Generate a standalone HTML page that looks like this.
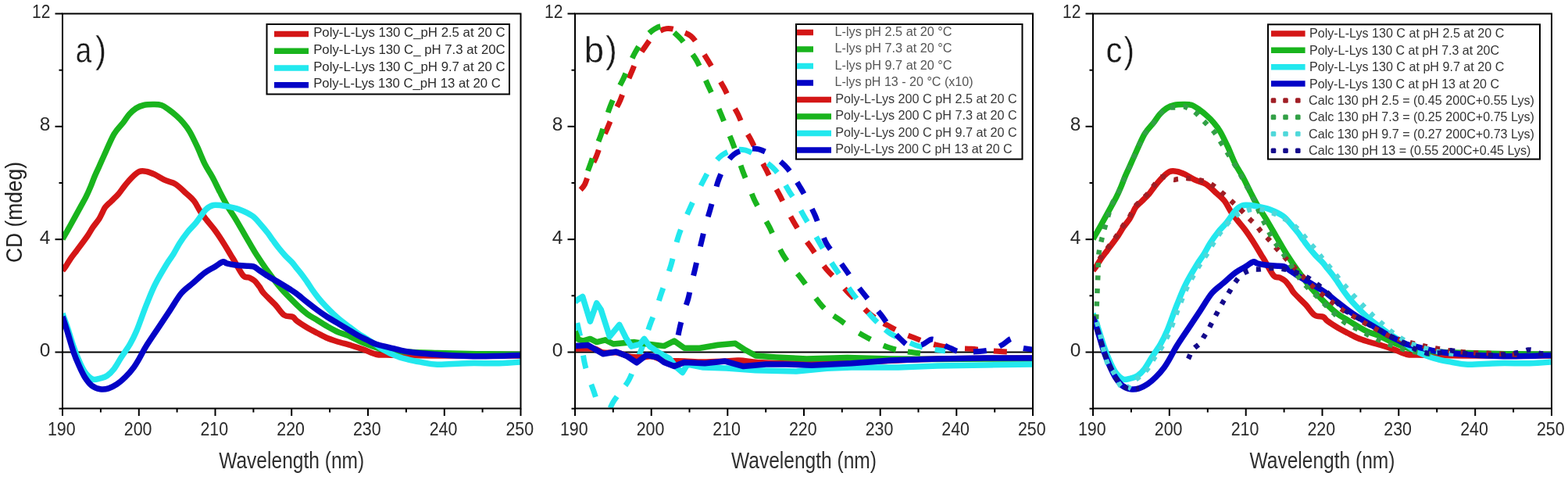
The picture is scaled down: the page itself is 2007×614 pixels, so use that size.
<!DOCTYPE html>
<html><head><meta charset="utf-8"><title>CD spectra</title>
<style>html,body{margin:0;padding:0;background:#fff;}svg{display:block;filter:blur(0.45px);}</style>
</head><body>
<svg width="2007" height="614" viewBox="0 0 2007 614" font-family="'Liberation Sans', Arial, sans-serif"><defs>
<clipPath id="c0"><rect x="80.0" y="17.5" width="586.5" height="505.0"/></clipPath>
<clipPath id="c1"><rect x="736.0" y="17.5" width="586.0" height="505.0"/></clipPath>
<clipPath id="c2"><rect x="1399.0" y="17.5" width="587.0" height="505.0"/></clipPath>
</defs>
<rect width="2007" height="614" fill="#fff"/>
<line x1="80.0" y1="450.5" x2="666.5" y2="450.5" stroke="#000" stroke-width="1.8"/>
<line x1="736.0" y1="450.5" x2="1322.0" y2="450.5" stroke="#000" stroke-width="1.8"/>
<line x1="1399.0" y1="450.5" x2="1986.0" y2="450.5" stroke="#000" stroke-width="1.8"/>
<path d="M80.0,346.0 C80.7,345.2 82.2,343.7 83.9,341.2 C85.6,338.7 88.0,334.3 90.4,330.8 C92.8,327.3 95.6,323.9 98.2,320.4 C100.8,316.9 103.6,313.3 106.0,310.0 C108.4,306.7 110.4,304.1 112.6,300.8 C114.8,297.5 116.7,293.9 119.1,290.4 C121.5,286.9 124.9,283.1 126.9,280.0 C128.9,276.9 129.7,274.5 131.0,272.0 C132.3,269.5 132.8,267.6 134.7,265.1 C136.6,262.7 139.7,260.1 142.5,257.3 C145.3,254.5 148.8,251.4 151.6,248.2 C154.4,244.9 156.6,241.3 159.4,237.8 C162.2,234.3 165.4,230.4 168.5,227.3 C171.6,224.2 175.0,220.8 178.2,219.5 C181.4,218.2 184.6,218.9 187.9,219.5 C191.2,220.1 194.0,221.3 198.0,223.2 C202.0,225.1 207.3,228.6 211.8,230.7 C216.3,232.8 220.5,232.9 224.8,235.6 C229.2,238.3 234.0,243.4 237.9,247.0 C241.8,250.6 245.2,253.0 248.3,257.0 C251.4,261.0 253.8,266.7 256.6,270.8 C259.4,274.9 261.7,277.8 264.9,281.9 C268.1,286.0 272.3,290.6 276.0,295.7 C279.7,300.8 283.9,307.3 287.1,312.4 C290.3,317.5 293.2,322.6 295.4,326.2 C297.5,329.8 297.4,329.3 300.0,333.7 C302.6,338.1 308.0,348.8 311.2,352.4 C314.4,356.0 316.7,354.0 319.1,355.1 C321.5,356.2 323.4,357.1 325.6,359.0 C327.8,360.9 330.1,364.2 332.1,366.8 C334.1,369.4 334.0,371.0 337.4,374.9 C340.8,378.8 348.0,385.2 352.4,389.9 C356.8,394.6 359.9,400.4 363.6,403.0 C367.4,405.6 372.2,404.2 374.9,405.5 C377.6,406.8 377.0,408.2 380.0,410.5 C383.0,412.8 388.7,416.4 393.0,419.0 C397.3,421.6 401.7,423.8 406.0,426.0 C410.3,428.2 414.6,430.7 419.0,432.5 C423.4,434.3 427.0,435.4 432.1,437.0 C437.2,438.6 444.3,440.3 449.8,442.0 C455.3,443.7 459.8,445.1 465.1,447.0 C470.4,448.9 476.5,452.1 481.4,453.3 C486.3,454.5 488.1,453.9 494.5,454.1 C500.9,454.3 510.3,454.4 520.0,454.5 C529.7,454.6 539.4,454.9 552.7,455.0 C566.0,455.1 581.1,455.0 600.0,455.0 C618.9,455.0 655.0,455.0 666.0,455.0" fill="none" stroke="#d41616" stroke-width="7.5" stroke-linejoin="round" stroke-linecap="butt" clip-path="url(#c0)"/>
<path d="M80.0,306.0 C81.7,303.0 86.4,294.8 90.2,288.0 C94.0,281.2 99.5,271.1 102.8,265.1 C106.1,259.1 107.7,256.4 109.9,252.1 C112.1,247.8 114.0,243.4 115.8,239.1 C117.6,234.8 119.2,230.3 121.0,226.0 C122.8,221.7 125.0,217.3 126.9,213.0 C128.8,208.7 129.5,206.9 132.7,200.0 C135.9,193.1 141.8,178.9 145.9,171.7 C150.1,164.5 154.3,161.2 157.6,157.0 C160.8,152.8 162.6,149.4 165.4,146.3 C168.2,143.2 171.1,140.5 174.2,138.5 C177.3,136.5 180.4,135.3 184.0,134.5 C187.6,133.7 191.9,133.6 195.7,133.6 C199.4,133.6 203.1,133.4 206.5,134.5 C209.9,135.6 212.9,138.1 216.2,140.4 C219.4,142.7 223.1,145.6 226.0,148.2 C228.9,150.8 231.0,152.8 233.8,156.1 C236.6,159.4 239.7,163.0 242.8,168.3 C245.9,173.6 249.3,180.8 252.5,187.7 C255.7,194.6 259.0,203.4 262.2,209.9 C265.4,216.4 268.7,220.5 271.9,226.5 C275.1,232.5 278.4,239.7 281.6,245.9 C284.8,252.1 288.0,258.4 291.2,263.9 C294.4,269.4 297.7,273.8 300.9,279.1 C304.1,284.4 307.4,290.1 310.6,295.7 C313.8,301.2 317.3,307.3 320.3,312.4 C323.3,317.5 325.1,320.8 328.6,326.2 C332.1,331.6 336.0,337.7 341.2,344.9 C346.4,352.1 353.4,361.8 359.9,369.3 C366.4,376.8 374.5,384.6 380.0,390.0 C385.5,395.4 388.7,398.2 393.0,401.5 C397.3,404.8 401.7,406.8 406.0,409.5 C410.3,412.2 414.6,415.0 419.0,417.5 C423.4,420.0 427.8,422.6 432.1,424.5 C436.5,426.4 439.6,426.7 445.1,429.0 C450.6,431.3 457.6,435.5 465.1,438.5 C472.6,441.5 480.9,445.1 490.0,447.0 C499.1,448.9 508.3,449.2 520.0,450.0 C531.7,450.8 546.7,451.1 560.0,451.5 C573.3,451.9 586.7,452.2 600.0,452.5 C613.3,452.8 629.0,452.8 640.0,453.0 C651.0,453.2 661.7,453.4 666.0,453.5" fill="none" stroke="#19b41d" stroke-width="7.5" stroke-linejoin="round" stroke-linecap="butt" clip-path="url(#c0)"/>
<path d="M80.0,401.0 C81.2,404.3 84.7,414.0 87.0,421.0 C89.3,428.0 91.7,436.3 94.0,443.0 C96.3,449.7 98.7,455.7 101.0,461.0 C103.3,466.3 105.8,471.5 108.0,475.0 C110.2,478.5 112.0,480.2 114.0,482.0 C116.0,483.8 117.7,485.2 120.0,485.5 C122.3,485.8 125.2,484.8 128.0,484.0 C130.8,483.2 134.1,482.7 137.1,480.6 C140.1,478.6 143.1,475.6 146.1,471.7 C149.1,467.8 151.8,462.4 155.1,457.3 C158.4,452.2 162.5,446.9 165.8,441.2 C169.1,435.5 171.2,431.9 174.8,423.3 C178.4,414.8 183.4,399.8 187.4,389.9 C191.4,380.0 194.2,372.4 198.6,363.7 C203.0,355.0 209.7,343.9 213.6,337.5 C217.5,331.1 219.3,329.4 222.0,325.0 C224.7,320.6 227.0,315.7 230.0,311.0 C233.0,306.3 236.5,301.4 240.0,297.0 C243.5,292.6 247.2,289.5 251.1,284.7 C255.0,279.9 259.8,271.7 263.5,268.0 C267.2,264.3 268.8,263.2 273.2,262.5 C277.6,261.8 284.3,263.0 289.9,263.9 C295.4,264.8 301.0,265.9 306.5,268.0 C312.0,270.1 318.6,273.1 323.1,276.3 C327.6,279.5 330.3,283.4 333.5,287.0 C336.7,290.6 339.9,294.5 342.5,297.8 C345.1,301.1 346.6,303.6 349.0,306.9 C351.4,310.1 354.2,314.0 356.8,317.3 C359.4,320.6 361.8,323.4 364.6,326.5 C367.4,329.6 371.2,332.8 373.8,335.6 C376.4,338.4 377.9,340.8 380.0,343.4 C382.1,346.0 384.3,348.6 386.5,351.5 C388.7,354.4 390.8,357.4 393.0,360.5 C395.2,363.6 397.1,367.0 399.5,370.4 C401.9,373.8 404.5,377.3 407.3,380.8 C410.1,384.3 413.2,387.8 416.5,391.3 C419.8,394.8 423.4,398.4 426.9,401.7 C430.4,404.9 433.8,408.0 437.3,410.8 C440.8,413.6 444.2,416.0 447.7,418.6 C451.2,421.2 454.6,424.0 458.1,426.4 C461.6,428.8 464.9,430.6 468.5,432.9 C472.1,435.2 476.5,437.7 480.0,440.0 C483.5,442.3 485.3,444.3 489.6,446.8 C493.9,449.3 500.5,452.7 505.9,454.9 C511.3,457.1 516.7,458.4 522.1,459.8 C527.5,461.2 532.1,462.0 538.4,463.1 C544.6,464.2 549.6,466.0 559.6,466.3 C569.6,466.6 585.1,465.0 598.3,464.7 C611.5,464.4 627.7,465.0 639.0,464.7 C650.3,464.4 661.5,463.4 666.0,463.1" fill="none" stroke="#22e8ee" stroke-width="7.5" stroke-linejoin="round" stroke-linecap="butt" clip-path="url(#c0)"/>
<path d="M80.0,405.0 C81.2,408.6 84.7,419.4 87.0,426.9 C89.3,434.4 91.7,443.3 94.1,450.2 C96.5,457.1 98.9,462.7 101.3,468.1 C103.7,473.5 105.8,478.2 108.5,482.4 C111.2,486.6 114.1,490.6 117.4,493.2 C120.7,495.8 124.6,497.1 128.2,497.7 C131.8,498.3 135.3,497.9 138.9,496.8 C142.5,495.8 146.1,493.8 149.7,491.4 C153.3,489.0 156.8,486.0 160.4,482.4 C164.0,478.8 168.3,473.8 171.2,469.9 C174.1,466.0 175.3,463.7 178.0,459.1 C180.7,454.5 183.3,448.8 187.4,442.3 C191.5,435.8 197.3,427.4 202.3,419.9 C207.3,412.4 212.3,404.9 217.3,397.4 C222.3,389.9 227.3,380.8 232.3,374.9 C237.3,369.0 242.3,366.2 247.3,361.8 C252.3,357.4 257.7,352.1 262.3,348.7 C266.9,345.3 271.2,343.5 275.0,341.2 C278.8,338.9 282.6,335.6 285.2,334.9 C287.8,334.2 288.0,336.2 290.4,336.9 C292.8,337.5 295.8,338.3 299.5,338.8 C303.2,339.3 308.5,339.8 312.6,340.1 C316.7,340.4 321.1,339.8 324.3,340.8 C327.6,341.8 328.6,343.7 332.1,346.0 C335.6,348.3 340.8,351.8 345.1,354.5 C349.4,357.2 353.8,359.4 358.1,362.0 C362.4,364.6 367.5,367.7 371.1,370.0 C374.8,372.3 376.4,373.2 380.0,376.0 C383.6,378.8 388.7,383.1 393.0,386.5 C397.3,389.9 401.7,393.3 406.0,396.5 C410.3,399.7 414.6,402.7 419.0,405.5 C423.4,408.3 427.8,410.8 432.1,413.4 C436.5,416.0 440.8,418.6 445.1,421.2 C449.4,423.8 453.8,426.6 458.1,429.0 C462.4,431.4 467.2,433.6 471.1,435.5 C475.0,437.4 477.0,438.8 481.4,440.3 C485.8,441.8 492.3,443.0 497.7,444.3 C503.1,445.6 508.6,447.3 514.0,448.4 C519.4,449.5 522.7,450.1 530.3,451.0 C537.9,451.9 548.3,452.8 559.6,453.5 C570.9,454.2 586.4,455.2 598.3,455.5 C610.2,455.8 619.6,455.7 630.9,455.5 C642.2,455.3 660.1,454.7 666.0,454.5" fill="none" stroke="#0303c6" stroke-width="7.5" stroke-linejoin="round" stroke-linecap="butt" clip-path="url(#c0)"/>
<rect x="80.0" y="17.5" width="586.5" height="505.0" fill="none" stroke="#000" stroke-width="2"/>
<line x1="75.5" y1="522.7" x2="80.0" y2="522.7" stroke="#000" stroke-width="2"/>
<line x1="70.5" y1="450.5" x2="80.0" y2="450.5" stroke="#000" stroke-width="2"/>
<text x="64.5" y="455.9" font-size="24.5" text-anchor="end" fill="#2a2a2a">0</text>
<line x1="75.5" y1="378.3" x2="80.0" y2="378.3" stroke="#000" stroke-width="2"/>
<line x1="70.5" y1="306.2" x2="80.0" y2="306.2" stroke="#000" stroke-width="2"/>
<text x="64.5" y="311.6" font-size="24.5" text-anchor="end" fill="#2a2a2a">4</text>
<line x1="75.5" y1="234.0" x2="80.0" y2="234.0" stroke="#000" stroke-width="2"/>
<line x1="70.5" y1="161.8" x2="80.0" y2="161.8" stroke="#000" stroke-width="2"/>
<text x="64.5" y="167.2" font-size="24.5" text-anchor="end" fill="#2a2a2a">8</text>
<line x1="75.5" y1="89.7" x2="80.0" y2="89.7" stroke="#000" stroke-width="2"/>
<line x1="70.5" y1="17.5" x2="80.0" y2="17.5" stroke="#000" stroke-width="2"/>
<text x="64.5" y="22.9" font-size="24.5" text-anchor="end" fill="#2a2a2a" textLength="23.4" lengthAdjust="spacingAndGlyphs">12</text>
<line x1="80.0" y1="522.5" x2="80.0" y2="532.0" stroke="#000" stroke-width="2"/>
<text x="78.8" y="557.0" font-size="24.5" text-anchor="middle" fill="#2a2a2a" textLength="35.7" lengthAdjust="spacingAndGlyphs">190</text>
<line x1="128.9" y1="522.5" x2="128.9" y2="527.5" stroke="#000" stroke-width="2"/>
<line x1="177.8" y1="522.5" x2="177.8" y2="532.0" stroke="#000" stroke-width="2"/>
<text x="176.6" y="557.0" font-size="24.5" text-anchor="middle" fill="#2a2a2a" textLength="35.7" lengthAdjust="spacingAndGlyphs">200</text>
<line x1="226.6" y1="522.5" x2="226.6" y2="527.5" stroke="#000" stroke-width="2"/>
<line x1="275.5" y1="522.5" x2="275.5" y2="532.0" stroke="#000" stroke-width="2"/>
<text x="274.3" y="557.0" font-size="24.5" text-anchor="middle" fill="#2a2a2a" textLength="35.7" lengthAdjust="spacingAndGlyphs">210</text>
<line x1="324.4" y1="522.5" x2="324.4" y2="527.5" stroke="#000" stroke-width="2"/>
<line x1="373.2" y1="522.5" x2="373.2" y2="532.0" stroke="#000" stroke-width="2"/>
<text x="372.1" y="557.0" font-size="24.5" text-anchor="middle" fill="#2a2a2a" textLength="35.7" lengthAdjust="spacingAndGlyphs">220</text>
<line x1="422.1" y1="522.5" x2="422.1" y2="527.5" stroke="#000" stroke-width="2"/>
<line x1="471.0" y1="522.5" x2="471.0" y2="532.0" stroke="#000" stroke-width="2"/>
<text x="469.8" y="557.0" font-size="24.5" text-anchor="middle" fill="#2a2a2a" textLength="35.7" lengthAdjust="spacingAndGlyphs">230</text>
<line x1="519.9" y1="522.5" x2="519.9" y2="527.5" stroke="#000" stroke-width="2"/>
<line x1="568.8" y1="522.5" x2="568.8" y2="532.0" stroke="#000" stroke-width="2"/>
<text x="567.5" y="557.0" font-size="24.5" text-anchor="middle" fill="#2a2a2a" textLength="35.7" lengthAdjust="spacingAndGlyphs">240</text>
<line x1="617.6" y1="522.5" x2="617.6" y2="527.5" stroke="#000" stroke-width="2"/>
<line x1="666.5" y1="522.5" x2="666.5" y2="532.0" stroke="#000" stroke-width="2"/>
<text x="665.3" y="557.0" font-size="24.5" text-anchor="middle" fill="#2a2a2a" textLength="35.7" lengthAdjust="spacingAndGlyphs">250</text>
<text x="373.2" y="599.0" font-size="29.0" text-anchor="middle" fill="#2e2e2e" textLength="186.0" lengthAdjust="spacingAndGlyphs">Wavelength (nm)</text>
<text transform="translate(96.67,80.20) scale(0.800,1)" font-size="45.8" fill="#1a1a1a" stroke="#fff" stroke-width="0.4">a</text>
<text transform="translate(122.12,80.00) scale(0.880,1)" font-size="48.0" fill="#1a1a1a" stroke="#fff" stroke-width="0.4">)</text>
<rect x="341.5" y="31.0" width="310.5" height="89.5" fill="#fff" stroke="#000" stroke-width="2"/>
<line x1="351" y1="43.6" x2="395" y2="43.6" stroke="#d41616" stroke-width="7.5"/>
<text x="401.2" y="47.2" font-size="16.5" text-anchor="start" fill="#2a2a2a" textLength="245.5" lengthAdjust="spacingAndGlyphs">Poly-L-Lys 130 C_pH 2.5 at 20 C</text>
<line x1="351" y1="65.3" x2="395" y2="65.3" stroke="#19b41d" stroke-width="7.5"/>
<text x="401.2" y="68.9" font-size="16.5" text-anchor="start" fill="#2a2a2a" textLength="245.5" lengthAdjust="spacingAndGlyphs">Poly-L-Lys 130 C_ pH 7.3 at 20C</text>
<line x1="351" y1="87.0" x2="395" y2="87.0" stroke="#22e8ee" stroke-width="7.5"/>
<text x="401.2" y="90.6" font-size="16.5" text-anchor="start" fill="#2a2a2a" textLength="245.5" lengthAdjust="spacingAndGlyphs">Poly-L-Lys 130 C_pH 9.7 at 20 C</text>
<line x1="351" y1="108.7" x2="395" y2="108.7" stroke="#0303c6" stroke-width="7.5"/>
<text x="401.2" y="112.3" font-size="16.5" text-anchor="start" fill="#2a2a2a" textLength="239.5" lengthAdjust="spacingAndGlyphs">Poly-L-Lys 130 C_pH 13 at 20 C</text>
<path d="M742.0,244.0 C743.1,242.6 746.3,240.1 748.5,235.8 C750.7,231.5 752.5,224.0 755.0,218.0 C757.5,212.0 760.9,206.0 763.4,199.8 C765.9,193.6 767.6,187.1 770.0,181.0 C772.4,174.9 775.2,169.1 777.7,163.3 C780.2,157.5 782.4,151.7 785.0,146.0 C787.6,140.3 791.0,134.8 793.5,129.1 C796.0,123.4 797.5,118.1 800.0,112.0 C802.5,105.9 805.6,98.5 808.3,92.3 C811.0,86.1 813.0,80.5 816.0,75.0 C819.0,69.5 822.5,64.3 826.2,59.1 C829.9,53.9 833.5,47.8 838.0,44.0 C842.5,40.2 848.2,37.4 853.2,36.6 C858.2,35.8 862.8,37.5 868.0,39.0 C873.2,40.5 879.7,42.4 884.2,45.9 C888.7,49.4 891.4,54.8 895.0,60.0 C898.6,65.2 902.5,71.4 906.0,77.1 C909.5,82.8 912.6,88.2 916.0,94.0 C919.4,99.8 923.2,106.0 926.4,111.8 C929.6,117.6 932.0,123.3 935.0,129.0 C938.0,134.7 941.8,140.5 944.6,146.2 C947.4,151.9 949.2,157.5 952.0,163.0 C954.8,168.5 958.3,173.4 961.3,179.1 C964.3,184.8 966.8,190.8 970.0,197.0 C973.2,203.2 977.4,210.6 980.4,216.4 C983.4,222.2 985.1,226.5 988.0,232.0 C990.9,237.5 994.8,243.8 997.8,249.5 C1000.8,255.2 1003.0,260.2 1006.0,266.0 C1009.0,271.8 1012.8,278.5 1016.1,284.2 C1019.4,289.9 1022.4,294.7 1026.0,300.0 C1029.6,305.3 1034.0,310.8 1037.7,316.0 C1041.4,321.2 1044.3,325.9 1048.0,331.0 C1051.7,336.1 1055.5,341.7 1059.7,346.5 C1063.9,351.3 1068.5,355.2 1073.0,360.0 C1077.5,364.8 1081.9,370.4 1086.4,375.1 C1090.9,379.8 1095.6,383.7 1100.0,388.0 C1104.4,392.3 1108.6,397.4 1112.8,401.1 C1117.0,404.8 1120.7,407.2 1125.0,410.0 C1129.3,412.8 1133.5,414.9 1138.5,417.6 C1143.5,420.3 1149.8,423.6 1155.0,426.0 C1160.2,428.4 1164.8,430.0 1170.0,432.0 C1175.2,434.0 1180.5,436.3 1186.0,438.0 C1191.5,439.7 1197.5,441.1 1203.2,442.3 C1208.9,443.5 1213.4,444.3 1220.0,445.0 C1226.6,445.7 1236.3,445.8 1243.0,446.3 C1249.7,446.8 1253.8,447.5 1260.0,448.0 C1266.2,448.5 1274.7,449.2 1280.0,449.5 C1285.3,449.8 1290.0,449.9 1292.0,450.0" fill="none" stroke="#d41616" stroke-width="7" stroke-linejoin="round" stroke-linecap="butt" stroke-dasharray="0.0 2.0 17.0 22.0 17.0 22.2 17.0 20.7 17.0 22.7 17.0 20.8 17.0 19.3 17.0 15.9 17.0 21.2 17.0 23.3 17.0 21.9 17.0 20.0 17.0 24.9 17.0 20.4 17.0 22.2 17.0 21.5 17.0 20.6 17.0 22.1 17.0 20.1 17.0 13.6 17.0 17.7 17.0 17.8 17.0 23.1 17.0 20.1 17.0 103.5 0.0" clip-path="url(#c1)"/>
<path d="M746.0,236.0 C747.6,231.8 752.7,218.2 755.4,210.7 C758.1,203.2 759.7,197.3 762.0,191.0 C764.3,184.7 766.9,179.1 769.1,172.9 C771.3,166.7 773.0,160.2 775.0,154.0 C777.0,147.8 778.8,142.0 781.1,136.0 C783.4,130.0 786.3,123.7 789.0,118.0 C791.7,112.3 794.8,107.3 797.5,101.6 C800.2,95.9 802.4,89.8 805.0,84.0 C807.6,78.2 809.9,72.6 813.1,66.9 C816.3,61.2 819.9,55.0 824.0,50.0 C828.1,45.0 832.9,39.9 837.6,37.2 C842.3,34.5 846.8,32.3 852.0,34.0 C857.2,35.7 864.3,42.7 869.0,47.2 C873.7,51.7 876.3,56.1 880.0,61.0 C883.7,65.9 888.0,71.3 891.2,76.6 C894.4,81.9 896.4,87.3 899.0,93.0 C901.6,98.7 904.1,104.7 906.8,110.5 C909.5,116.3 912.2,121.9 915.0,128.0 C917.8,134.1 920.8,141.0 923.3,147.0 C925.8,153.0 927.7,158.2 930.0,164.0 C932.3,169.8 935.0,175.7 937.3,181.7 C939.6,187.7 941.7,193.7 944.0,200.0 C946.3,206.3 948.6,213.3 950.9,219.5 C953.2,225.7 955.6,231.0 958.0,237.0 C960.4,243.0 962.7,249.5 965.5,255.5 C968.3,261.5 971.8,267.2 975.0,273.0 C978.2,278.8 981.8,284.6 984.8,290.4 C987.8,296.2 990.0,302.0 993.0,308.0 C996.0,314.0 999.2,320.9 1002.5,326.4 C1005.8,331.9 1009.1,336.0 1013.0,341.0 C1016.9,346.0 1021.9,351.4 1025.9,356.6 C1029.9,361.8 1033.1,366.8 1037.0,372.0 C1040.9,377.2 1045.5,383.4 1049.3,387.9 C1053.1,392.4 1055.9,395.6 1060.0,399.0 C1064.1,402.4 1068.8,404.9 1073.8,408.4 C1078.8,411.9 1084.5,416.4 1090.0,420.0 C1095.5,423.6 1101.3,427.0 1106.6,430.0 C1111.9,433.0 1116.7,435.5 1122.0,438.0 C1127.3,440.5 1133.0,443.0 1138.5,444.8 C1144.0,446.6 1148.4,447.8 1155.0,449.0 C1161.6,450.2 1174.2,451.5 1178.0,452.0" fill="none" stroke="#19b41d" stroke-width="7" stroke-linejoin="round" stroke-linecap="butt" stroke-dasharray="0.0 18.5 17.0 23.2 17.0 21.8 17.0 21.1 17.0 21.1 17.0 21.9 17.0 19.9 17.0 19.9 17.0 20.3 17.0 23.1 17.0 20.4 17.0 23.2 17.0 21.9 17.0 22.9 17.0 23.1 17.0 21.2 17.0 22.1 17.0 15.6 17.0 21.9 17.0 18.2 17.0 15.3 16.4 100.0 0.0" clip-path="url(#c1)"/>
<path d="M738.0,410.0 C738.8,413.7 741.3,423.2 743.0,432.0 C744.7,440.8 746.3,454.8 748.0,463.0 C749.7,471.2 751.0,474.9 753.0,481.0 C755.0,487.1 757.7,494.0 759.7,499.7 C761.7,505.4 763.1,510.3 765.0,515.0 C766.9,519.7 768.8,526.0 771.0,528.0 C773.2,530.0 775.7,529.3 778.0,527.0 C780.3,524.7 782.2,518.5 785.0,514.0 C787.8,509.5 791.7,504.7 795.0,500.0 C798.3,495.3 801.7,492.3 805.0,486.0 C808.3,479.7 811.7,470.3 815.0,462.0 C818.3,453.7 822.1,444.0 825.0,436.0 C827.9,428.0 830.0,420.8 832.5,414.0 C835.0,407.2 837.8,401.2 840.0,395.0 C842.2,388.8 842.9,385.9 846.0,376.6 C849.1,367.3 855.0,351.7 858.8,339.2 C862.5,326.7 864.5,313.9 868.5,301.8 C872.5,289.7 877.6,278.6 883.0,266.6 C888.4,254.6 896.2,238.9 900.9,230.0 C905.6,221.1 907.2,218.2 911.0,213.0 C914.8,207.8 919.1,202.2 923.8,198.7 C928.5,195.2 933.9,193.1 939.0,192.0 C944.1,190.9 949.1,190.9 954.3,192.2 C959.5,193.5 964.2,196.3 970.0,200.0 C975.8,203.7 984.0,209.6 989.0,214.3 C994.0,219.0 996.5,223.0 1000.0,228.0 C1003.5,233.0 1006.5,239.0 1009.8,244.3 C1013.1,249.6 1016.8,254.7 1020.0,260.0 C1023.2,265.4 1025.9,270.9 1029.1,276.4 C1032.3,281.9 1035.7,287.4 1039.0,293.0 C1042.3,298.6 1045.6,304.7 1048.8,310.2 C1052.0,315.7 1054.7,320.5 1058.0,326.0 C1061.3,331.5 1065.2,337.5 1068.9,343.0 C1072.6,348.5 1076.3,353.6 1080.0,359.0 C1083.7,364.4 1087.1,369.8 1091.1,375.1 C1095.1,380.4 1099.7,385.8 1104.0,391.0 C1108.3,396.2 1112.8,401.8 1116.8,406.1 C1120.8,410.4 1124.2,413.6 1128.0,417.0 C1131.8,420.4 1135.2,424.0 1139.7,426.8 C1144.2,429.6 1149.5,431.5 1155.0,434.0 C1160.5,436.5 1166.7,439.7 1172.5,441.7 C1178.3,443.7 1183.8,444.8 1190.0,446.0 C1196.2,447.2 1206.7,448.5 1210.0,449.0" fill="none" stroke="#22e8ee" stroke-width="7" stroke-linejoin="round" stroke-linecap="butt" stroke-dasharray="0.0 3.3 17.0 25.1 17.0 21.6 17.0 36.0 17.0 17.8 17.0 21.7 17.0 21.4 17.0 22.8 17.0 22.5 17.0 21.6 17.0 21.1 17.0 23.7 17.0 22.1 17.0 15.2 17.0 24.4 17.0 19.6 17.0 20.5 17.0 22.1 17.0 21.5 17.0 22.0 17.0 23.3 17.0 13.9 17.0 19.1 17.0 16.1 13.7 100.0 0.0" clip-path="url(#c1)"/>
<path d="M866.0,440.0 C866.6,436.8 868.3,427.2 869.8,420.5 C871.3,413.8 873.2,406.4 875.0,400.0 C876.8,393.6 879.1,388.4 880.8,382.2 C882.5,376.0 883.5,369.3 885.0,363.0 C886.5,356.7 888.1,350.7 889.6,344.4 C891.1,338.1 892.5,331.2 894.0,325.0 C895.5,318.8 896.9,313.2 898.4,307.0 C899.9,300.8 901.3,294.3 903.0,288.0 C904.7,281.7 906.9,275.4 908.7,269.1 C910.5,262.8 912.2,256.4 914.0,250.0 C915.8,243.6 917.3,236.8 919.6,230.5 C921.9,224.2 924.7,217.5 928.0,212.0 C931.3,206.5 934.9,200.9 939.4,197.4 C943.9,193.9 949.7,192.1 955.0,191.0 C960.3,189.9 965.4,189.4 971.2,190.9 C977.0,192.4 984.4,196.4 990.0,200.0 C995.6,203.6 1000.9,208.0 1005.1,212.2 C1009.3,216.4 1011.7,220.3 1015.0,225.0 C1018.3,229.7 1021.5,235.1 1024.7,240.4 C1027.9,245.7 1031.0,251.3 1034.0,257.0 C1037.0,262.7 1040.2,268.8 1042.9,274.8 C1045.6,280.8 1047.5,286.9 1050.0,293.0 C1052.5,299.1 1054.7,305.9 1058.0,311.7 C1061.3,317.5 1066.0,322.6 1070.0,328.0 C1074.0,333.4 1078.0,338.9 1081.8,344.2 C1085.6,349.5 1089.1,354.9 1093.0,360.0 C1096.9,365.1 1101.0,370.1 1105.0,375.1 C1109.0,380.1 1113.0,385.1 1117.0,390.0 C1121.0,394.9 1125.4,399.6 1129.2,404.6 C1133.0,409.6 1136.0,415.1 1140.0,420.0 C1144.0,424.9 1148.8,430.2 1153.0,434.0 C1157.2,437.8 1160.5,441.8 1165.0,443.0 C1169.5,444.2 1175.3,442.5 1180.0,441.0 C1184.7,439.5 1188.8,434.2 1193.0,434.0 C1197.2,433.8 1201.0,438.1 1205.0,440.0 C1209.0,441.9 1212.7,443.9 1216.9,445.6 C1221.1,447.3 1223.8,449.4 1230.0,450.0 C1236.2,450.6 1247.3,450.0 1254.0,449.5 C1260.7,449.0 1265.2,448.4 1270.0,447.0 C1274.8,445.6 1278.7,443.3 1283.0,441.0 C1287.3,438.7 1292.3,432.5 1296.0,433.0 C1299.7,433.5 1300.7,441.7 1305.0,444.0 C1309.3,446.3 1319.2,446.5 1322.0,447.0" fill="none" stroke="#0303c6" stroke-width="7" stroke-linejoin="round" stroke-linecap="butt" stroke-dasharray="0.0 11.4 17.0 22.9 17.0 21.8 17.0 21.4 17.0 22.3 17.0 23.1 17.0 22.0 17.0 16.4 17.0 23.4 17.0 17.4 17.0 21.9 17.0 22.9 17.0 23.3 17.0 21.7 17.0 21.2 17.0 20.9 17.0 20.9 17.0 17.2 17.0 20.9 17.0 17.6 17.0 22.2 12.6 100.0 0.0" clip-path="url(#c1)"/>
<path d="M736.0,446.0 C740.0,446.0 754.0,445.2 760.0,446.0 C766.0,446.8 767.0,450.2 772.0,451.0 C777.0,451.8 784.5,450.2 790.0,451.0 C795.5,451.8 800.0,455.0 805.0,456.0 C810.0,457.0 815.0,457.0 820.0,457.0 C825.0,457.0 830.0,455.3 835.0,456.0 C840.0,456.7 843.2,460.0 850.0,461.0 C856.8,462.0 867.7,461.7 876.0,462.0 C884.3,462.3 891.0,463.0 900.0,463.0 C909.0,463.0 922.3,462.3 930.0,462.0 C937.7,461.7 937.7,460.7 946.0,461.0 C954.3,461.3 964.3,463.3 980.0,464.0 C995.7,464.7 1020.0,465.2 1040.0,465.0 C1060.0,464.8 1073.3,464.0 1100.0,463.0 C1126.7,462.0 1163.0,459.8 1200.0,459.0 C1237.0,458.2 1301.7,458.2 1322.0,458.0" fill="none" stroke="#d41616" stroke-width="7.5" stroke-linejoin="round" stroke-linecap="butt" clip-path="url(#c1)"/>
<path d="M736.0,424.0 L740.0,434.0 L746.0,436.0 L755.4,433.4 L763.7,437.6 L774.8,434.8 L785.0,440.0 L795.6,439.0 L812.2,437.6 L830.2,440.3 L850.0,442.6 L863.0,436.1 L876.0,445.2 L895.6,445.2 L919.0,441.3 L941.2,439.3 L954.2,447.8 L967.3,455.0 L993.3,456.9 L1032.4,458.9 L1084.5,457.5 L1140.0,459.0 L1200.0,459.5 L1260.0,459.0 L1322.0,459.0" fill="none" stroke="#19b41d" stroke-width="7.5" stroke-linejoin="round" stroke-linecap="butt" clip-path="url(#c1)"/>
<path d="M736.0,386.0 L740.0,383.0 L745.7,379.4 L755.4,411.2 L763.7,387.7 L769.2,396.0 L780.3,430.6 L792.8,415.4 L801.1,432.0 L808.0,443.1 L819.1,440.3 L824.6,433.4 L831.6,443.1 L845.0,452.0 L856.5,458.2 L866.0,470.0 L873.5,476.5 L880.0,466.0 L900.0,470.0 L930.0,471.0 L967.3,473.8 L1019.4,475.1 L1058.5,471.2 L1090.0,470.0 L1150.0,470.0 L1200.0,468.0 L1260.0,467.0 L1322.0,466.0" fill="none" stroke="#22e8ee" stroke-width="7.5" stroke-linejoin="round" stroke-linecap="butt" clip-path="url(#c1)"/>
<path d="M736.0,442.5 L752.6,441.5 L772.0,452.8 L788.6,450.0 L802.5,455.6 L815.0,463.9 L827.4,454.2 L841.3,457.0 L850.0,463.4 L863.0,468.6 L876.0,463.4 L902.1,464.7 L928.2,462.1 L951.6,468.6 L980.3,466.0 L1006.4,466.0 L1038.9,467.3 L1090.0,464.7 L1140.0,461.0 L1200.0,459.0 L1260.0,458.0 L1322.0,458.0" fill="none" stroke="#0303c6" stroke-width="7.5" stroke-linejoin="round" stroke-linecap="butt" clip-path="url(#c1)"/>
<rect x="736.0" y="17.5" width="586.0" height="505.0" fill="none" stroke="#000" stroke-width="2"/>
<line x1="731.5" y1="522.7" x2="736.0" y2="522.7" stroke="#000" stroke-width="2"/>
<line x1="726.5" y1="450.5" x2="736.0" y2="450.5" stroke="#000" stroke-width="2"/>
<text x="720.5" y="455.9" font-size="24.5" text-anchor="end" fill="#2a2a2a">0</text>
<line x1="731.5" y1="378.3" x2="736.0" y2="378.3" stroke="#000" stroke-width="2"/>
<line x1="726.5" y1="306.2" x2="736.0" y2="306.2" stroke="#000" stroke-width="2"/>
<text x="720.5" y="311.6" font-size="24.5" text-anchor="end" fill="#2a2a2a">4</text>
<line x1="731.5" y1="234.0" x2="736.0" y2="234.0" stroke="#000" stroke-width="2"/>
<line x1="726.5" y1="161.8" x2="736.0" y2="161.8" stroke="#000" stroke-width="2"/>
<text x="720.5" y="167.2" font-size="24.5" text-anchor="end" fill="#2a2a2a">8</text>
<line x1="731.5" y1="89.7" x2="736.0" y2="89.7" stroke="#000" stroke-width="2"/>
<line x1="726.5" y1="17.5" x2="736.0" y2="17.5" stroke="#000" stroke-width="2"/>
<text x="720.5" y="22.9" font-size="24.5" text-anchor="end" fill="#2a2a2a" textLength="23.4" lengthAdjust="spacingAndGlyphs">12</text>
<line x1="736.0" y1="522.5" x2="736.0" y2="532.0" stroke="#000" stroke-width="2"/>
<text x="734.8" y="557.0" font-size="24.5" text-anchor="middle" fill="#2a2a2a" textLength="35.7" lengthAdjust="spacingAndGlyphs">190</text>
<line x1="784.8" y1="522.5" x2="784.8" y2="527.5" stroke="#000" stroke-width="2"/>
<line x1="833.7" y1="522.5" x2="833.7" y2="532.0" stroke="#000" stroke-width="2"/>
<text x="832.5" y="557.0" font-size="24.5" text-anchor="middle" fill="#2a2a2a" textLength="35.7" lengthAdjust="spacingAndGlyphs">200</text>
<line x1="882.5" y1="522.5" x2="882.5" y2="527.5" stroke="#000" stroke-width="2"/>
<line x1="931.3" y1="522.5" x2="931.3" y2="532.0" stroke="#000" stroke-width="2"/>
<text x="930.1" y="557.0" font-size="24.5" text-anchor="middle" fill="#2a2a2a" textLength="35.7" lengthAdjust="spacingAndGlyphs">210</text>
<line x1="980.2" y1="522.5" x2="980.2" y2="527.5" stroke="#000" stroke-width="2"/>
<line x1="1029.0" y1="522.5" x2="1029.0" y2="532.0" stroke="#000" stroke-width="2"/>
<text x="1027.8" y="557.0" font-size="24.5" text-anchor="middle" fill="#2a2a2a" textLength="35.7" lengthAdjust="spacingAndGlyphs">220</text>
<line x1="1077.8" y1="522.5" x2="1077.8" y2="527.5" stroke="#000" stroke-width="2"/>
<line x1="1126.7" y1="522.5" x2="1126.7" y2="532.0" stroke="#000" stroke-width="2"/>
<text x="1125.5" y="557.0" font-size="24.5" text-anchor="middle" fill="#2a2a2a" textLength="35.7" lengthAdjust="spacingAndGlyphs">230</text>
<line x1="1175.5" y1="522.5" x2="1175.5" y2="527.5" stroke="#000" stroke-width="2"/>
<line x1="1224.3" y1="522.5" x2="1224.3" y2="532.0" stroke="#000" stroke-width="2"/>
<text x="1223.1" y="557.0" font-size="24.5" text-anchor="middle" fill="#2a2a2a" textLength="35.7" lengthAdjust="spacingAndGlyphs">240</text>
<line x1="1273.2" y1="522.5" x2="1273.2" y2="527.5" stroke="#000" stroke-width="2"/>
<line x1="1322.0" y1="522.5" x2="1322.0" y2="532.0" stroke="#000" stroke-width="2"/>
<text x="1320.8" y="557.0" font-size="24.5" text-anchor="middle" fill="#2a2a2a" textLength="35.7" lengthAdjust="spacingAndGlyphs">250</text>
<text x="1029.0" y="599.0" font-size="29.0" text-anchor="middle" fill="#2e2e2e" textLength="186.0" lengthAdjust="spacingAndGlyphs">Wavelength (nm)</text>
<text transform="translate(747.76,79.60) scale(1.000,1)" font-size="45.5" fill="#1a1a1a" stroke="#fff" stroke-width="0.4">b</text>
<text transform="translate(775.07,79.50) scale(0.930,1)" font-size="48.0" fill="#1a1a1a" stroke="#fff" stroke-width="0.4">)</text>
<rect x="1019.0" y="31.0" width="289.5" height="172.6" fill="#fff" stroke="#000" stroke-width="2"/>
<line x1="1020" y1="41.5" x2="1041" y2="41.5" stroke="#d41616" stroke-width="7.5"/>
<text x="1068.5" y="45.7" font-size="16.5" text-anchor="start" fill="#555" textLength="150.0" lengthAdjust="spacingAndGlyphs">L-lys pH 2.5 at 20 °C</text>
<line x1="1020" y1="63.0" x2="1041" y2="63.0" stroke="#19b41d" stroke-width="7.5"/>
<text x="1068.5" y="67.2" font-size="16.5" text-anchor="start" fill="#555" textLength="150.0" lengthAdjust="spacingAndGlyphs">L-lys pH 7.3 at 20 °C</text>
<line x1="1020" y1="84.5" x2="1041" y2="84.5" stroke="#22e8ee" stroke-width="7.5"/>
<text x="1068.5" y="88.7" font-size="16.5" text-anchor="start" fill="#555" textLength="150.0" lengthAdjust="spacingAndGlyphs">L-lys pH 9.7 at 20 °C</text>
<line x1="1020" y1="106.0" x2="1041" y2="106.0" stroke="#0303c6" stroke-width="7.5"/>
<text x="1068.5" y="110.2" font-size="16.5" text-anchor="start" fill="#555" textLength="177.0" lengthAdjust="spacingAndGlyphs">L-lys pH 13 - 20 °C (x10)</text>
<line x1="1020" y1="127.5" x2="1064" y2="127.5" stroke="#d41616" stroke-width="7.5"/>
<text x="1069.2" y="131.7" font-size="16.5" text-anchor="start" fill="#383838" textLength="232.5" lengthAdjust="spacingAndGlyphs">Poly-L-Lys 200 C pH 2.5 at 20 C</text>
<line x1="1020" y1="149.0" x2="1064" y2="149.0" stroke="#19b41d" stroke-width="7.5"/>
<text x="1069.2" y="153.2" font-size="16.5" text-anchor="start" fill="#383838" textLength="232.5" lengthAdjust="spacingAndGlyphs">Poly-L-Lys 200 C pH 7.3 at 20 C</text>
<line x1="1020" y1="170.5" x2="1064" y2="170.5" stroke="#22e8ee" stroke-width="7.5"/>
<text x="1069.2" y="174.7" font-size="16.5" text-anchor="start" fill="#383838" textLength="232.5" lengthAdjust="spacingAndGlyphs">Poly-L-Lys 200 C pH 9.7 at 20 C</text>
<line x1="1020" y1="192.0" x2="1064" y2="192.0" stroke="#0303c6" stroke-width="7.5"/>
<text x="1069.2" y="196.2" font-size="16.5" text-anchor="start" fill="#383838" textLength="226.5" lengthAdjust="spacingAndGlyphs">Poly-L-Lys 200 C pH 13 at 20 C</text>
<path d="M1399.0,346.0 C1399.7,345.2 1401.2,343.7 1402.9,341.2 C1404.6,338.7 1407.0,334.3 1409.4,330.8 C1411.8,327.3 1414.6,323.9 1417.2,320.4 C1419.8,316.9 1422.6,313.3 1425.0,310.0 C1427.4,306.7 1429.4,304.1 1431.6,300.8 C1433.8,297.5 1435.7,293.9 1438.1,290.4 C1440.5,286.9 1443.9,283.1 1445.9,280.0 C1447.9,276.9 1448.7,274.5 1450.0,272.0 C1451.3,269.5 1451.8,267.6 1453.7,265.1 C1455.6,262.7 1458.7,260.1 1461.5,257.3 C1464.3,254.5 1467.8,251.4 1470.6,248.2 C1473.4,244.9 1475.6,241.3 1478.4,237.8 C1481.2,234.3 1484.4,230.4 1487.5,227.3 C1490.6,224.2 1494.0,220.8 1497.2,219.5 C1500.4,218.2 1503.6,218.9 1506.9,219.5 C1510.2,220.1 1513.0,221.3 1517.0,223.2 C1521.0,225.1 1526.3,228.6 1530.8,230.7 C1535.3,232.8 1539.4,232.9 1543.8,235.6 C1548.2,238.3 1553.0,243.4 1556.9,247.0 C1560.8,250.6 1564.2,253.0 1567.3,257.0 C1570.4,261.0 1572.8,266.7 1575.6,270.8 C1578.4,274.9 1580.7,277.8 1583.9,281.9 C1587.1,286.0 1591.3,290.6 1595.0,295.7 C1598.7,300.8 1602.9,307.3 1606.1,312.4 C1609.3,317.5 1612.2,322.6 1614.4,326.2 C1616.6,329.8 1616.4,329.3 1619.0,333.7 C1621.6,338.1 1627.0,348.8 1630.2,352.4 C1633.4,356.0 1635.7,354.0 1638.1,355.1 C1640.5,356.2 1642.4,357.1 1644.6,359.0 C1646.8,360.9 1649.1,364.2 1651.1,366.8 C1653.1,369.4 1653.0,371.0 1656.4,374.9 C1659.8,378.8 1667.0,385.2 1671.4,389.9 C1675.8,394.6 1678.8,400.4 1682.6,403.0 C1686.3,405.6 1691.2,404.2 1693.9,405.5 C1696.6,406.8 1696.0,408.2 1699.0,410.5 C1702.0,412.8 1707.7,416.4 1712.0,419.0 C1716.3,421.6 1720.7,423.8 1725.0,426.0 C1729.3,428.2 1733.7,430.7 1738.0,432.5 C1742.3,434.3 1746.0,435.4 1751.1,437.0 C1756.2,438.6 1763.3,440.3 1768.8,442.0 C1774.3,443.7 1778.8,445.1 1784.1,447.0 C1789.4,448.9 1795.5,452.1 1800.4,453.3 C1805.3,454.5 1807.1,453.9 1813.5,454.1 C1819.9,454.3 1829.3,454.4 1839.0,454.5 C1848.7,454.6 1858.4,454.9 1871.7,455.0 C1885.0,455.1 1900.1,455.0 1919.0,455.0 C1937.9,455.0 1974.0,455.0 1985.0,455.0" fill="none" stroke="#d41616" stroke-width="7.5" stroke-linejoin="round" stroke-linecap="butt" clip-path="url(#c2)"/>
<path d="M1399.0,306.0 C1400.7,303.0 1405.4,294.8 1409.2,288.0 C1413.0,281.2 1418.5,271.1 1421.8,265.1 C1425.1,259.1 1426.7,256.4 1428.9,252.1 C1431.1,247.8 1433.0,243.4 1434.8,239.1 C1436.6,234.8 1438.2,230.3 1440.0,226.0 C1441.8,221.7 1444.0,217.3 1445.9,213.0 C1447.9,208.7 1448.5,206.9 1451.7,200.0 C1454.9,193.1 1460.8,178.9 1464.9,171.7 C1469.1,164.5 1473.3,161.2 1476.6,157.0 C1479.8,152.8 1481.6,149.4 1484.4,146.3 C1487.2,143.2 1490.1,140.5 1493.2,138.5 C1496.3,136.5 1499.4,135.3 1503.0,134.5 C1506.6,133.7 1511.0,133.6 1514.7,133.6 C1518.5,133.6 1522.1,133.4 1525.5,134.5 C1528.9,135.6 1532.0,138.1 1535.2,140.4 C1538.5,142.7 1542.1,145.6 1545.0,148.2 C1547.9,150.8 1550.0,152.8 1552.8,156.1 C1555.6,159.4 1558.7,163.0 1561.8,168.3 C1564.9,173.6 1568.3,180.8 1571.5,187.7 C1574.7,194.6 1578.0,203.4 1581.2,209.9 C1584.4,216.4 1587.7,220.5 1590.9,226.5 C1594.1,232.5 1597.4,239.7 1600.6,245.9 C1603.8,252.1 1607.0,258.4 1610.2,263.9 C1613.4,269.4 1616.7,273.8 1619.9,279.1 C1623.1,284.4 1626.4,290.1 1629.6,295.7 C1632.8,301.2 1636.3,307.3 1639.3,312.4 C1642.3,317.5 1644.1,320.8 1647.6,326.2 C1651.1,331.6 1655.0,337.7 1660.2,344.9 C1665.4,352.1 1672.4,361.8 1678.9,369.3 C1685.4,376.8 1693.5,384.6 1699.0,390.0 C1704.5,395.4 1707.7,398.2 1712.0,401.5 C1716.3,404.8 1720.7,406.8 1725.0,409.5 C1729.3,412.2 1733.7,415.0 1738.0,417.5 C1742.3,420.0 1746.8,422.6 1751.1,424.5 C1755.4,426.4 1758.6,426.7 1764.1,429.0 C1769.6,431.3 1776.6,435.5 1784.1,438.5 C1791.6,441.5 1799.8,445.1 1809.0,447.0 C1818.2,448.9 1827.3,449.2 1839.0,450.0 C1850.7,450.8 1865.7,451.1 1879.0,451.5 C1892.3,451.9 1905.7,452.2 1919.0,452.5 C1932.3,452.8 1948.0,452.8 1959.0,453.0 C1970.0,453.2 1980.7,453.4 1985.0,453.5" fill="none" stroke="#19b41d" stroke-width="7.5" stroke-linejoin="round" stroke-linecap="butt" clip-path="url(#c2)"/>
<path d="M1399.0,401.0 C1400.2,404.3 1403.7,414.0 1406.0,421.0 C1408.3,428.0 1410.7,436.3 1413.0,443.0 C1415.3,449.7 1417.7,455.7 1420.0,461.0 C1422.3,466.3 1424.8,471.5 1427.0,475.0 C1429.2,478.5 1431.0,480.2 1433.0,482.0 C1435.0,483.8 1436.7,485.2 1439.0,485.5 C1441.3,485.8 1444.2,484.8 1447.0,484.0 C1449.8,483.2 1453.1,482.7 1456.1,480.6 C1459.1,478.6 1462.1,475.6 1465.1,471.7 C1468.1,467.8 1470.8,462.4 1474.1,457.3 C1477.4,452.2 1481.5,446.9 1484.8,441.2 C1488.1,435.5 1490.2,431.9 1493.8,423.3 C1497.4,414.8 1502.4,399.8 1506.4,389.9 C1510.4,380.0 1513.2,372.4 1517.6,363.7 C1522.0,355.0 1528.7,343.9 1532.6,337.5 C1536.5,331.1 1538.3,329.4 1541.0,325.0 C1543.7,320.6 1546.0,315.7 1549.0,311.0 C1552.0,306.3 1555.5,301.4 1559.0,297.0 C1562.5,292.6 1566.2,289.5 1570.1,284.7 C1574.0,279.9 1578.8,271.7 1582.5,268.0 C1586.2,264.3 1587.8,263.2 1592.2,262.5 C1596.6,261.8 1603.4,263.0 1608.9,263.9 C1614.5,264.8 1620.0,265.9 1625.5,268.0 C1631.0,270.1 1637.6,273.1 1642.1,276.3 C1646.6,279.5 1649.3,283.4 1652.5,287.0 C1655.7,290.6 1658.9,294.5 1661.5,297.8 C1664.1,301.1 1665.6,303.6 1668.0,306.9 C1670.4,310.1 1673.2,314.0 1675.8,317.3 C1678.4,320.6 1680.8,323.4 1683.6,326.5 C1686.4,329.6 1690.2,332.8 1692.8,335.6 C1695.4,338.4 1696.9,340.8 1699.0,343.4 C1701.1,346.0 1703.3,348.6 1705.5,351.5 C1707.7,354.4 1709.8,357.4 1712.0,360.5 C1714.2,363.6 1716.1,367.0 1718.5,370.4 C1720.9,373.8 1723.5,377.3 1726.3,380.8 C1729.1,384.3 1732.2,387.8 1735.5,391.3 C1738.8,394.8 1742.4,398.4 1745.9,401.7 C1749.4,404.9 1752.8,408.0 1756.3,410.8 C1759.8,413.6 1763.2,416.0 1766.7,418.6 C1770.2,421.2 1773.6,424.0 1777.1,426.4 C1780.6,428.8 1783.8,430.6 1787.5,432.9 C1791.2,435.2 1795.5,437.7 1799.0,440.0 C1802.5,442.3 1804.3,444.3 1808.6,446.8 C1812.9,449.3 1819.5,452.7 1824.9,454.9 C1830.3,457.1 1835.7,458.4 1841.1,459.8 C1846.5,461.2 1851.2,462.0 1857.4,463.1 C1863.7,464.2 1868.6,466.0 1878.6,466.3 C1888.6,466.6 1904.1,465.0 1917.3,464.7 C1930.5,464.4 1946.7,465.0 1958.0,464.7 C1969.3,464.4 1980.5,463.4 1985.0,463.1" fill="none" stroke="#22e8ee" stroke-width="7.5" stroke-linejoin="round" stroke-linecap="butt" clip-path="url(#c2)"/>
<path d="M1399.0,405.0 C1400.2,408.6 1403.7,419.4 1406.0,426.9 C1408.3,434.4 1410.7,443.3 1413.1,450.2 C1415.5,457.1 1417.9,462.7 1420.3,468.1 C1422.7,473.5 1424.8,478.2 1427.5,482.4 C1430.2,486.6 1433.1,490.6 1436.4,493.2 C1439.7,495.8 1443.6,497.1 1447.2,497.7 C1450.8,498.3 1454.3,497.9 1457.9,496.8 C1461.5,495.8 1465.1,493.8 1468.7,491.4 C1472.3,489.0 1475.8,486.0 1479.4,482.4 C1483.0,478.8 1487.3,473.8 1490.2,469.9 C1493.1,466.0 1494.3,463.7 1497.0,459.1 C1499.7,454.5 1502.4,448.8 1506.4,442.3 C1510.5,435.8 1516.3,427.4 1521.3,419.9 C1526.3,412.4 1531.3,404.9 1536.3,397.4 C1541.3,389.9 1546.3,380.8 1551.3,374.9 C1556.3,369.0 1561.3,366.2 1566.3,361.8 C1571.3,357.4 1576.7,352.1 1581.3,348.7 C1585.9,345.3 1590.2,343.5 1594.0,341.2 C1597.8,338.9 1601.6,335.6 1604.2,334.9 C1606.8,334.2 1607.0,336.2 1609.4,336.9 C1611.8,337.5 1614.8,338.3 1618.5,338.8 C1622.2,339.3 1627.5,339.8 1631.6,340.1 C1635.7,340.4 1640.0,339.8 1643.3,340.8 C1646.5,341.8 1647.6,343.7 1651.1,346.0 C1654.6,348.3 1659.8,351.8 1664.1,354.5 C1668.4,357.2 1672.8,359.4 1677.1,362.0 C1681.4,364.6 1686.4,367.7 1690.1,370.0 C1693.8,372.3 1695.3,373.2 1699.0,376.0 C1702.7,378.8 1707.7,383.1 1712.0,386.5 C1716.3,389.9 1720.7,393.3 1725.0,396.5 C1729.3,399.7 1733.7,402.7 1738.0,405.5 C1742.3,408.3 1746.8,410.8 1751.1,413.4 C1755.4,416.0 1759.8,418.6 1764.1,421.2 C1768.4,423.8 1772.8,426.6 1777.1,429.0 C1781.4,431.4 1786.2,433.6 1790.1,435.5 C1794.0,437.4 1796.0,438.8 1800.4,440.3 C1804.8,441.8 1811.3,443.0 1816.7,444.3 C1822.1,445.6 1827.6,447.3 1833.0,448.4 C1838.4,449.5 1841.7,450.1 1849.3,451.0 C1856.9,451.9 1867.3,452.8 1878.6,453.5 C1889.9,454.2 1905.4,455.2 1917.3,455.5 C1929.2,455.8 1938.6,455.7 1949.9,455.5 C1961.2,455.3 1979.2,454.7 1985.0,454.5" fill="none" stroke="#0303c6" stroke-width="7.5" stroke-linejoin="round" stroke-linecap="butt" clip-path="url(#c2)"/>
<path d="M1398.0,345.0 C1398.7,344.2 1400.2,342.7 1401.9,340.2 C1403.6,337.7 1406.0,333.3 1408.4,329.8 C1410.8,326.3 1413.6,322.9 1416.2,319.4 C1418.8,315.9 1421.6,312.3 1424.0,309.0 C1426.4,305.7 1428.4,303.1 1430.6,299.8 C1432.8,296.5 1434.7,292.9 1437.1,289.4 C1439.5,285.9 1442.9,282.1 1444.9,279.0 C1446.9,275.9 1447.7,273.5 1449.0,271.0 C1450.3,268.5 1450.8,266.6 1452.7,264.1 C1454.6,261.7 1457.7,259.1 1460.5,256.3 C1463.3,253.5 1466.8,250.4 1469.6,247.2 C1472.4,243.9 1474.6,240.3 1477.4,236.8 C1480.2,233.3 1482.5,227.5 1486.5,226.3 C1490.5,225.1 1498.3,229.3 1501.6,229.8 C1505.0,230.3 1504.9,229.4 1506.5,229.2 C1508.2,229.0 1509.8,228.9 1511.4,228.6 C1513.0,228.4 1514.7,227.7 1516.3,227.6 C1517.9,227.6 1519.6,228.0 1521.2,228.2 C1522.8,228.3 1524.4,228.5 1526.1,228.7 C1527.7,228.9 1529.3,228.9 1531.0,229.2 C1532.6,229.5 1534.2,230.0 1535.8,230.4 C1537.5,230.8 1539.1,231.3 1540.7,231.7 C1542.4,232.1 1544.0,232.2 1545.6,232.9 C1547.3,233.6 1548.9,234.7 1550.5,235.7 C1552.1,236.8 1553.8,238.1 1555.4,239.3 C1557.0,240.6 1558.7,241.9 1560.3,243.3 C1561.9,244.6 1563.5,246.1 1565.2,247.5 C1566.8,248.8 1568.4,250.2 1570.1,251.6 C1571.7,253.1 1573.3,254.6 1575.0,256.1 C1576.6,257.6 1578.2,259.1 1579.8,260.6 C1581.5,262.1 1583.1,263.6 1584.7,265.1 C1586.4,266.6 1588.0,268.0 1589.6,269.7 C1591.2,271.3 1592.9,273.2 1594.5,275.0 C1596.1,276.7 1597.8,278.4 1599.4,280.0 C1601.0,281.7 1602.6,283.1 1604.3,284.7 C1605.9,286.3 1607.5,287.9 1609.2,289.8 C1610.8,291.7 1612.4,294.2 1614.0,296.1 C1615.7,298.0 1617.3,299.6 1618.9,301.2 C1620.6,302.9 1622.2,304.3 1623.8,306.1 C1625.5,307.8 1627.1,309.8 1628.7,311.7 C1630.3,313.6 1632.0,315.6 1633.6,317.4 C1635.2,319.2 1636.9,320.9 1638.5,322.6 C1640.1,324.3 1641.7,326.0 1643.4,327.8 C1645.0,329.6 1646.6,331.6 1648.3,333.3 C1649.9,335.1 1651.5,336.9 1653.2,338.6 C1654.8,340.3 1656.4,341.8 1658.0,343.4 C1659.7,345.1 1661.3,346.8 1662.9,348.5 C1664.6,350.3 1666.2,352.2 1667.8,354.0 C1669.4,355.7 1671.1,357.3 1672.7,359.0 C1674.3,360.6 1676.0,362.3 1677.6,363.9 C1679.2,365.4 1680.8,366.9 1682.5,368.4 C1684.1,369.8 1685.7,371.3 1687.4,372.7 C1689.0,374.1 1690.6,375.3 1692.2,376.6 C1693.9,377.9 1695.5,379.1 1697.1,380.3 C1698.8,381.6 1700.4,382.8 1702.0,384.1 C1703.7,385.4 1705.3,386.7 1706.9,388.0 C1708.5,389.2 1710.2,390.5 1711.8,391.8 C1713.4,393.0 1715.1,394.1 1716.7,395.2 C1718.3,396.4 1719.9,397.7 1721.6,398.7 C1723.2,399.8 1724.8,400.7 1726.5,401.6 C1728.1,402.5 1729.7,403.3 1731.3,404.2 C1733.0,405.1 1734.6,406.0 1736.2,406.9 C1737.9,407.8 1739.5,408.9 1741.1,409.9 C1742.8,410.8 1744.4,411.8 1746.0,412.8 C1747.6,413.8 1749.3,414.7 1750.9,415.6 C1752.5,416.5 1754.2,417.3 1755.8,418.1 C1757.4,418.9 1759.0,419.7 1760.7,420.6 C1762.3,421.4 1763.9,422.3 1765.6,423.1 C1767.2,424.0 1768.8,424.9 1770.5,425.8 C1772.1,426.7 1773.7,427.7 1775.3,428.5 C1777.0,429.2 1778.6,429.8 1780.2,430.4 C1781.9,431.1 1783.5,431.7 1785.1,432.3 C1786.7,432.9 1788.4,433.5 1790.0,434.0 C1791.6,434.5 1793.3,434.9 1794.9,435.4 C1796.5,435.9 1798.1,436.4 1799.8,436.8 C1801.4,437.3 1803.0,437.7 1804.7,438.2 C1806.3,438.6 1807.9,439.0 1809.5,439.4 C1811.2,439.9 1812.8,440.3 1814.4,440.7 C1816.1,441.1 1817.7,441.6 1819.3,441.9 C1821.0,442.3 1822.6,442.6 1824.2,442.9 C1825.8,443.2 1827.5,443.6 1829.1,443.9 C1830.7,444.2 1832.4,444.6 1834.0,444.9 C1835.6,445.2 1837.2,445.5 1838.9,445.8 C1840.5,446.1 1842.1,446.4 1843.8,446.7 C1845.4,447.0 1847.0,447.4 1848.7,447.6 C1850.3,447.9 1851.9,448.0 1853.5,448.2 C1855.2,448.4 1856.8,448.6 1858.4,448.8 C1860.1,449.0 1861.7,449.2 1863.3,449.4 C1864.9,449.6 1866.6,449.8 1868.2,450.0 C1869.8,450.1 1871.5,450.2 1873.1,450.4 C1874.7,450.5 1876.3,450.7 1878.0,450.8 C1879.6,450.9 1881.2,451.1 1882.9,451.2 C1884.5,451.3 1886.1,451.3 1887.8,451.4 C1889.4,451.4 1891.0,451.4 1892.6,451.5 C1894.3,451.5 1895.9,451.6 1897.5,451.6 C1899.2,451.7 1900.8,451.7 1902.4,451.8 C1904.0,451.8 1905.7,451.9 1907.3,451.9 C1908.9,452.0 1910.6,452.1 1912.2,452.2 C1913.8,452.3 1915.4,452.3 1917.1,452.4 C1918.7,452.5 1920.3,452.6 1922.0,452.7 C1923.6,452.8 1925.2,452.8 1926.8,452.9 C1928.5,452.9 1930.1,453.0 1931.7,453.1 C1933.4,453.1 1935.0,453.2 1936.6,453.2 C1938.3,453.3 1939.9,453.4 1941.5,453.4 C1943.1,453.5 1944.8,453.5 1946.4,453.5 C1948.0,453.6 1950.5,453.6 1951.3,453.6" fill="none" stroke="#a01e25" stroke-width="6.5" stroke-linejoin="round" stroke-linecap="butt" stroke-dasharray="6 10.5" clip-path="url(#c2)"/>
<path d="M1403.2,408.0 C1403.3,404.2 1403.6,394.7 1404.0,385.0 C1404.4,375.3 1404.9,361.2 1405.5,350.0 C1406.1,338.8 1404.8,332.1 1407.5,318.0 C1410.2,303.9 1418.2,276.1 1421.8,265.1 C1425.4,254.1 1426.7,256.4 1428.9,252.1 C1431.1,247.8 1433.0,243.4 1434.8,239.1 C1436.6,234.8 1438.2,230.3 1440.0,226.0 C1441.8,221.7 1444.0,217.3 1445.9,213.0 C1447.9,208.7 1448.5,206.9 1451.7,200.0 C1454.9,193.1 1460.8,178.9 1464.9,171.7 C1469.1,164.5 1473.3,161.2 1476.6,157.0 C1479.8,152.8 1481.6,149.4 1484.4,146.3 C1487.2,143.2 1489.5,140.0 1493.2,138.5 C1496.9,137.0 1503.5,137.7 1506.5,137.4 C1509.6,137.1 1509.8,136.8 1511.4,136.7 C1513.0,136.6 1514.7,136.2 1516.3,136.5 C1517.9,136.8 1519.6,138.0 1521.2,138.7 C1522.8,139.5 1524.4,140.0 1526.1,141.0 C1527.7,142.0 1529.3,143.2 1531.0,144.7 C1532.6,146.2 1534.2,148.1 1535.8,149.8 C1537.5,151.5 1539.1,153.3 1540.7,154.9 C1542.4,156.6 1544.0,158.1 1545.6,159.8 C1547.3,161.5 1548.9,163.1 1550.5,164.9 C1552.1,166.7 1553.8,168.4 1555.4,170.6 C1557.0,172.9 1558.7,175.7 1560.3,178.3 C1561.9,180.9 1563.5,183.5 1565.2,186.1 C1566.8,188.8 1568.4,191.5 1570.1,194.1 C1571.7,196.7 1573.3,199.2 1575.0,201.7 C1576.6,204.3 1578.2,206.9 1579.8,209.6 C1581.5,212.2 1583.1,215.0 1584.7,217.8 C1586.4,220.7 1588.0,223.7 1589.6,226.7 C1591.2,229.7 1592.9,232.8 1594.5,235.8 C1596.1,238.7 1597.8,241.5 1599.4,244.5 C1601.0,247.6 1602.6,250.8 1604.3,254.3 C1605.9,257.7 1607.5,261.5 1609.2,265.2 C1610.8,268.9 1612.4,272.9 1614.0,276.3 C1615.7,279.8 1617.3,282.9 1618.9,286.1 C1620.6,289.4 1622.2,292.6 1623.8,295.8 C1625.5,299.1 1627.1,302.7 1628.7,305.5 C1630.3,308.2 1632.0,310.2 1633.6,312.5 C1635.2,314.8 1636.9,317.1 1638.5,319.3 C1640.1,321.5 1641.7,323.7 1643.4,325.9 C1645.0,328.1 1646.6,330.2 1648.3,332.6 C1649.9,335.1 1651.5,338.0 1653.2,340.6 C1654.8,343.2 1656.4,345.7 1658.0,348.2 C1659.7,350.7 1661.3,353.1 1662.9,355.4 C1664.6,357.6 1666.2,359.7 1667.8,361.6 C1669.4,363.5 1671.1,365.1 1672.7,366.7 C1674.3,368.4 1676.0,370.1 1677.6,371.7 C1679.2,373.3 1680.8,374.7 1682.5,376.2 C1684.1,377.7 1685.7,379.1 1687.4,380.7 C1689.0,382.3 1690.6,383.9 1692.2,385.6 C1693.9,387.3 1695.5,389.1 1697.1,390.7 C1698.8,392.4 1700.4,394.0 1702.0,395.6 C1703.7,397.2 1705.3,398.8 1706.9,400.3 C1708.5,401.9 1710.2,403.6 1711.8,405.1 C1713.4,406.5 1715.1,407.6 1716.7,408.9 C1718.3,410.2 1719.9,411.6 1721.6,412.7 C1723.2,413.8 1724.8,414.7 1726.5,415.5 C1728.1,416.4 1729.7,417.2 1731.3,418.0 C1733.0,418.8 1734.6,419.6 1736.2,420.5 C1737.9,421.3 1739.5,422.2 1741.1,423.0 C1742.8,423.9 1744.4,424.8 1746.0,425.6 C1747.6,426.5 1749.3,427.4 1750.9,428.3 C1752.5,429.1 1754.2,429.9 1755.8,430.7 C1757.4,431.5 1759.0,432.2 1760.7,432.9 C1762.3,433.7 1763.9,434.4 1765.6,435.2 C1767.2,435.9 1768.8,436.7 1770.5,437.4 C1772.1,438.0 1773.7,438.7 1775.3,439.3 C1777.0,439.9 1778.6,440.6 1780.2,441.2 C1781.9,441.9 1783.5,442.6 1785.1,443.2 C1786.7,443.7 1788.4,444.2 1790.0,444.7 C1791.6,445.2 1793.3,445.7 1794.9,446.3 C1796.5,446.8 1798.1,447.3 1799.8,447.8 C1801.4,448.2 1803.0,448.6 1804.7,449.0 C1806.3,449.3 1807.9,449.6 1809.5,449.9 C1811.2,450.2 1812.8,450.5 1814.4,450.8 C1816.1,451.1 1817.7,451.4 1819.3,451.7 C1821.0,451.9 1822.6,452.0 1824.2,452.2 C1825.8,452.3 1827.5,452.5 1829.1,452.6 C1830.7,452.8 1832.4,453.0 1834.0,453.1 C1835.6,453.3 1838.1,453.5 1838.9,453.6" fill="none" stroke="#32a046" stroke-width="6.5" stroke-linejoin="round" stroke-linecap="butt" stroke-dasharray="6 10.5" clip-path="url(#c2)"/>
<path d="M1403.9,411.8 C1404.7,414.9 1407.1,423.8 1408.8,430.4 C1410.4,437.1 1412.0,445.7 1413.7,451.8 C1415.3,458.0 1416.9,463.6 1418.5,467.2 C1420.2,470.8 1421.8,471.1 1423.4,473.5 C1425.1,475.9 1426.7,478.7 1428.3,481.8 C1430.0,484.9 1431.6,489.5 1433.2,492.0 C1434.8,494.5 1436.5,495.9 1438.1,496.9 C1439.7,497.9 1441.4,499.1 1443.0,498.0 C1444.6,496.9 1445.1,493.0 1447.9,490.1 C1450.6,487.3 1456.1,484.1 1459.6,481.1 C1463.1,478.1 1465.6,476.1 1468.6,472.2 C1471.6,468.3 1474.3,462.9 1477.6,457.8 C1480.9,452.7 1485.0,447.4 1488.3,441.7 C1491.6,436.0 1493.7,432.4 1497.3,423.8 C1500.9,415.2 1505.9,400.3 1509.9,390.4 C1513.9,380.5 1516.7,372.9 1521.1,364.2 C1525.5,355.5 1532.2,344.4 1536.1,338.0 C1540.0,331.6 1541.3,330.7 1544.5,325.5 C1547.7,320.3 1552.8,311.3 1555.4,307.1 C1558.0,302.8 1558.7,302.3 1560.3,300.0 C1561.9,297.7 1563.5,295.4 1565.2,293.3 C1566.8,291.1 1568.4,289.2 1570.1,287.3 C1571.7,285.4 1573.3,283.3 1575.0,281.7 C1576.6,280.1 1578.2,279.1 1579.8,277.8 C1581.5,276.5 1583.1,274.9 1584.7,273.8 C1586.4,272.8 1588.0,272.0 1589.6,271.3 C1591.2,270.6 1592.9,270.3 1594.5,269.8 C1596.1,269.3 1597.8,268.7 1599.4,268.3 C1601.0,267.9 1602.6,267.7 1604.3,267.6 C1605.9,267.5 1607.5,267.7 1609.2,267.7 C1610.8,267.8 1612.4,267.7 1614.0,267.9 C1615.7,268.0 1617.3,268.2 1618.9,268.6 C1620.6,269.0 1622.2,269.8 1623.8,270.5 C1625.5,271.1 1627.1,271.7 1628.7,272.3 C1630.3,273.0 1632.0,273.5 1633.6,274.3 C1635.2,275.1 1636.9,276.1 1638.5,277.0 C1640.1,277.9 1641.7,278.8 1643.4,279.7 C1645.0,280.6 1646.6,281.5 1648.3,282.4 C1649.9,283.4 1651.5,284.3 1653.2,285.6 C1654.8,286.8 1656.4,288.5 1658.0,290.0 C1659.7,291.5 1661.3,292.8 1662.9,294.5 C1664.6,296.3 1666.2,298.5 1667.8,300.5 C1669.4,302.4 1671.1,304.5 1672.7,306.4 C1674.3,308.3 1676.0,310.1 1677.6,312.0 C1679.2,313.8 1680.8,315.5 1682.5,317.5 C1684.1,319.4 1685.7,321.6 1687.4,323.7 C1689.0,325.8 1690.6,327.9 1692.2,330.0 C1693.9,332.0 1695.5,333.9 1697.1,335.8 C1698.8,337.8 1700.4,339.7 1702.0,341.7 C1703.7,343.7 1705.3,345.8 1706.9,347.8 C1708.5,349.8 1710.2,351.9 1711.8,353.9 C1713.4,356.0 1715.1,357.9 1716.7,359.9 C1718.3,361.9 1719.9,364.0 1721.6,365.9 C1723.2,367.8 1724.8,369.5 1726.5,371.4 C1728.1,373.2 1729.7,375.1 1731.3,376.9 C1733.0,378.7 1734.6,380.3 1736.2,382.0 C1737.9,383.7 1739.5,385.4 1741.1,387.1 C1742.8,388.8 1744.4,390.5 1746.0,392.2 C1747.6,393.9 1749.3,395.7 1750.9,397.4 C1752.5,399.0 1754.2,400.7 1755.8,402.2 C1757.4,403.8 1759.0,405.2 1760.7,406.6 C1762.3,408.1 1763.9,409.6 1765.6,411.0 C1767.2,412.5 1768.8,413.9 1770.5,415.3 C1772.1,416.7 1773.7,418.1 1775.3,419.5 C1777.0,420.9 1778.6,422.4 1780.2,423.7 C1781.9,424.9 1783.5,426.0 1785.1,427.1 C1786.7,428.3 1788.4,429.5 1790.0,430.6 C1791.6,431.7 1793.3,432.7 1794.9,433.7 C1796.5,434.7 1798.1,435.8 1799.8,436.7 C1801.4,437.6 1803.0,438.4 1804.7,439.1 C1806.3,439.8 1807.9,440.3 1809.5,440.8 C1811.2,441.4 1812.8,441.9 1814.4,442.5 C1816.1,443.0 1817.7,443.6 1819.3,444.1 C1821.0,444.6 1822.6,445.1 1824.2,445.6 C1825.8,446.1 1827.5,446.6 1829.1,447.1 C1830.7,447.6 1832.4,448.2 1834.0,448.6 C1835.6,449.1 1837.2,449.4 1838.9,449.7 C1840.5,450.0 1842.1,450.2 1843.8,450.5 C1845.4,450.8 1847.0,451.0 1848.7,451.3 C1850.3,451.6 1851.9,451.9 1853.5,452.1 C1855.2,452.3 1856.8,452.4 1858.4,452.6 C1860.1,452.7 1861.7,452.9 1863.3,453.1 C1864.9,453.2 1867.4,453.5 1868.2,453.6" fill="none" stroke="#4fd8da" stroke-width="6.5" stroke-linejoin="round" stroke-linecap="butt" stroke-dasharray="6 10.5" clip-path="url(#c2)"/>
<path d="M1399.0,405.0 C1400.2,408.6 1403.7,419.4 1406.0,426.9 C1408.3,434.4 1410.7,443.3 1413.1,450.2 C1415.5,457.1 1417.9,462.7 1420.3,468.1 C1422.7,473.5 1424.8,478.2 1427.5,482.4 C1430.2,486.6 1433.1,490.6 1436.4,493.2 C1439.7,495.8 1443.6,497.1 1447.2,497.7 C1450.8,498.3 1456.1,496.9 1457.9,496.8" fill="none" stroke="#140a8c" stroke-width="6.5" stroke-linejoin="round" stroke-linecap="butt" stroke-dasharray="6 10.5" clip-path="url(#c2)"/>
<path d="M1521.0,459.0 C1522.0,457.0 1524.5,450.3 1527.0,447.0 C1529.5,443.7 1533.6,442.0 1535.8,439.4 C1538.1,436.7 1539.1,433.8 1540.7,431.1 C1542.4,428.5 1544.0,426.1 1545.6,423.3 C1547.3,420.4 1548.9,417.1 1550.5,414.0 C1552.1,410.9 1553.8,407.8 1555.4,404.7 C1557.0,401.7 1558.7,398.7 1560.3,395.7 C1561.9,392.6 1563.5,389.5 1565.2,386.7 C1566.8,383.9 1568.4,381.5 1570.1,378.9 C1571.7,376.2 1573.3,373.5 1575.0,370.9 C1576.6,368.2 1578.2,365.3 1579.8,362.8 C1581.5,360.4 1583.1,358.1 1584.7,356.1 C1586.4,354.2 1588.0,352.4 1589.6,351.0 C1591.2,349.7 1592.9,348.9 1594.5,348.0 C1596.1,347.2 1597.8,346.5 1599.4,346.0 C1601.0,345.4 1602.6,344.9 1604.3,344.6 C1605.9,344.4 1607.5,344.5 1609.2,344.5 C1610.8,344.4 1612.4,344.5 1614.0,344.3 C1615.7,344.2 1617.3,343.6 1618.9,343.5 C1620.6,343.3 1622.2,343.3 1623.8,343.2 C1625.5,343.1 1627.1,343.0 1628.7,342.9 C1630.3,342.9 1632.0,342.6 1633.6,342.7 C1635.2,342.8 1636.9,343.1 1638.5,343.4 C1640.1,343.6 1641.7,343.9 1643.4,344.2 C1645.0,344.5 1646.6,344.9 1648.3,345.3 C1649.9,345.6 1651.5,345.9 1653.2,346.4 C1654.8,346.8 1656.4,347.5 1658.0,348.1 C1659.7,348.7 1661.3,349.3 1662.9,349.9 C1664.6,350.5 1666.2,350.9 1667.8,351.7 C1669.4,352.5 1671.1,353.6 1672.7,354.5 C1674.3,355.5 1676.0,356.4 1677.6,357.5 C1679.2,358.6 1680.8,359.8 1682.5,361.0 C1684.1,362.2 1685.7,363.4 1687.4,364.6 C1689.0,365.9 1690.6,367.3 1692.2,368.6 C1693.9,370.0 1695.5,371.3 1697.1,372.7 C1698.8,374.1 1700.4,375.7 1702.0,377.2 C1703.7,378.7 1705.3,380.0 1706.9,381.7 C1708.5,383.4 1710.2,385.4 1711.8,387.2 C1713.4,389.0 1715.1,390.7 1716.7,392.3 C1718.3,394.0 1719.9,395.8 1721.6,397.1 C1723.2,398.3 1724.8,399.0 1726.5,399.9 C1728.1,400.9 1729.7,401.8 1731.3,402.8 C1733.0,403.7 1734.6,404.7 1736.2,405.7 C1737.9,406.6 1739.5,407.6 1741.1,408.5 C1742.8,409.5 1744.4,410.5 1746.0,411.4 C1747.6,412.4 1749.3,413.4 1750.9,414.4 C1752.5,415.4 1754.2,416.4 1755.8,417.3 C1757.4,418.3 1759.0,419.1 1760.7,419.9 C1762.3,420.8 1763.9,421.6 1765.6,422.5 C1767.2,423.3 1768.8,424.2 1770.5,425.0 C1772.1,425.9 1773.7,426.7 1775.3,427.6 C1777.0,428.4 1778.6,429.3 1780.2,430.1 C1781.9,430.9 1783.5,431.7 1785.1,432.5 C1786.7,433.3 1788.4,434.1 1790.0,435.0 C1791.6,435.8 1793.3,436.7 1794.9,437.7 C1796.5,438.6 1798.1,439.7 1799.8,440.6 C1801.4,441.6 1803.0,442.5 1804.7,443.3 C1806.3,444.2 1807.9,444.8 1809.5,445.6 C1811.2,446.4 1812.8,447.2 1814.4,447.9 C1816.1,448.6 1817.7,449.1 1819.3,449.7 C1821.0,450.2 1822.6,450.8 1824.2,451.2 C1825.8,451.7 1827.5,452.2 1829.1,452.4 C1830.7,452.5 1832.4,452.1 1834.0,452.0 C1835.6,451.8 1837.2,451.7 1838.9,451.6 C1840.5,451.4 1842.1,451.4 1843.8,451.1 C1845.4,450.8 1847.0,450.2 1848.7,449.8 C1850.3,449.4 1851.9,448.8 1853.5,448.5 C1855.2,448.3 1856.8,448.2 1858.4,448.4 C1860.1,448.5 1861.7,449.0 1863.3,449.4 C1864.9,449.7 1866.6,450.1 1868.2,450.4 C1869.8,450.8 1871.5,451.1 1873.1,451.4 C1874.7,451.8 1876.3,452.1 1878.0,452.4 C1879.6,452.7 1881.2,453.0 1882.9,453.2 C1884.5,453.5 1886.1,453.7 1887.8,453.9 C1889.4,454.2 1891.0,454.5 1892.6,454.6 C1894.3,454.7 1895.9,454.6 1897.5,454.6 C1899.2,454.6 1900.8,454.5 1902.4,454.5 C1904.0,454.5 1905.7,454.4 1907.3,454.4 C1908.9,454.4 1910.6,454.4 1912.2,454.3 C1913.8,454.3 1915.4,454.3 1917.1,454.2 C1918.7,454.1 1920.3,454.0 1922.0,453.8 C1923.6,453.7 1925.2,453.6 1926.8,453.5 C1928.5,453.4 1930.1,453.3 1931.7,453.1 C1933.4,452.9 1935.0,452.6 1936.6,452.3 C1938.3,452.0 1939.9,451.6 1941.5,451.3 C1943.1,450.9 1944.8,450.6 1946.4,450.2 C1948.0,449.8 1949.7,449.3 1951.3,448.9 C1952.9,448.4 1954.5,447.7 1956.2,447.5 C1957.8,447.4 1959.4,447.4 1961.1,447.9 C1962.7,448.4 1964.3,449.9 1966.0,450.6 C1967.6,451.2 1969.2,451.6 1970.8,451.9 C1972.5,452.2 1974.1,452.2 1975.7,452.3 C1977.4,452.4 1979.8,452.6 1980.6,452.7" fill="none" stroke="#140a8c" stroke-width="6.5" stroke-linejoin="round" stroke-linecap="butt" stroke-dasharray="6 10.5" clip-path="url(#c2)"/>
<rect x="1399.0" y="17.5" width="587.0" height="505.0" fill="none" stroke="#000" stroke-width="2"/>
<line x1="1394.5" y1="522.7" x2="1399.0" y2="522.7" stroke="#000" stroke-width="2"/>
<line x1="1389.5" y1="450.5" x2="1399.0" y2="450.5" stroke="#000" stroke-width="2"/>
<text x="1383.5" y="455.9" font-size="24.5" text-anchor="end" fill="#2a2a2a">0</text>
<line x1="1394.5" y1="378.3" x2="1399.0" y2="378.3" stroke="#000" stroke-width="2"/>
<line x1="1389.5" y1="306.2" x2="1399.0" y2="306.2" stroke="#000" stroke-width="2"/>
<text x="1383.5" y="311.6" font-size="24.5" text-anchor="end" fill="#2a2a2a">4</text>
<line x1="1394.5" y1="234.0" x2="1399.0" y2="234.0" stroke="#000" stroke-width="2"/>
<line x1="1389.5" y1="161.8" x2="1399.0" y2="161.8" stroke="#000" stroke-width="2"/>
<text x="1383.5" y="167.2" font-size="24.5" text-anchor="end" fill="#2a2a2a">8</text>
<line x1="1394.5" y1="89.7" x2="1399.0" y2="89.7" stroke="#000" stroke-width="2"/>
<line x1="1389.5" y1="17.5" x2="1399.0" y2="17.5" stroke="#000" stroke-width="2"/>
<text x="1383.5" y="22.9" font-size="24.5" text-anchor="end" fill="#2a2a2a" textLength="23.4" lengthAdjust="spacingAndGlyphs">12</text>
<line x1="1399.0" y1="522.5" x2="1399.0" y2="532.0" stroke="#000" stroke-width="2"/>
<text x="1397.8" y="557.0" font-size="24.5" text-anchor="middle" fill="#2a2a2a" textLength="35.7" lengthAdjust="spacingAndGlyphs">190</text>
<line x1="1447.9" y1="522.5" x2="1447.9" y2="527.5" stroke="#000" stroke-width="2"/>
<line x1="1496.8" y1="522.5" x2="1496.8" y2="532.0" stroke="#000" stroke-width="2"/>
<text x="1495.6" y="557.0" font-size="24.5" text-anchor="middle" fill="#2a2a2a" textLength="35.7" lengthAdjust="spacingAndGlyphs">200</text>
<line x1="1545.8" y1="522.5" x2="1545.8" y2="527.5" stroke="#000" stroke-width="2"/>
<line x1="1594.7" y1="522.5" x2="1594.7" y2="532.0" stroke="#000" stroke-width="2"/>
<text x="1593.5" y="557.0" font-size="24.5" text-anchor="middle" fill="#2a2a2a" textLength="35.7" lengthAdjust="spacingAndGlyphs">210</text>
<line x1="1643.6" y1="522.5" x2="1643.6" y2="527.5" stroke="#000" stroke-width="2"/>
<line x1="1692.5" y1="522.5" x2="1692.5" y2="532.0" stroke="#000" stroke-width="2"/>
<text x="1691.3" y="557.0" font-size="24.5" text-anchor="middle" fill="#2a2a2a" textLength="35.7" lengthAdjust="spacingAndGlyphs">220</text>
<line x1="1741.4" y1="522.5" x2="1741.4" y2="527.5" stroke="#000" stroke-width="2"/>
<line x1="1790.3" y1="522.5" x2="1790.3" y2="532.0" stroke="#000" stroke-width="2"/>
<text x="1789.1" y="557.0" font-size="24.5" text-anchor="middle" fill="#2a2a2a" textLength="35.7" lengthAdjust="spacingAndGlyphs">230</text>
<line x1="1839.2" y1="522.5" x2="1839.2" y2="527.5" stroke="#000" stroke-width="2"/>
<line x1="1888.2" y1="522.5" x2="1888.2" y2="532.0" stroke="#000" stroke-width="2"/>
<text x="1887.0" y="557.0" font-size="24.5" text-anchor="middle" fill="#2a2a2a" textLength="35.7" lengthAdjust="spacingAndGlyphs">240</text>
<line x1="1937.1" y1="522.5" x2="1937.1" y2="527.5" stroke="#000" stroke-width="2"/>
<line x1="1986.0" y1="522.5" x2="1986.0" y2="532.0" stroke="#000" stroke-width="2"/>
<text x="1984.8" y="557.0" font-size="24.5" text-anchor="middle" fill="#2a2a2a" textLength="35.7" lengthAdjust="spacingAndGlyphs">250</text>
<text x="1692.5" y="599.0" font-size="29.0" text-anchor="middle" fill="#2e2e2e" textLength="186.0" lengthAdjust="spacingAndGlyphs">Wavelength (nm)</text>
<text transform="translate(1415.56,80.10) scale(0.910,1)" font-size="46.0" fill="#1a1a1a" stroke="#fff" stroke-width="0.4">c</text>
<text transform="translate(1438.46,79.50) scale(0.860,1)" font-size="47.0" fill="#1a1a1a" stroke="#fff" stroke-width="0.4">)</text>
<rect x="1623.0" y="31.3" width="348.0" height="172.3" fill="#fff" stroke="#000" stroke-width="2"/>
<line x1="1627" y1="42.9" x2="1670.6" y2="42.9" stroke="#d41616" stroke-width="7.5"/>
<text x="1676.0" y="48.4" font-size="16.5" text-anchor="start" fill="#333" textLength="249.3" lengthAdjust="spacingAndGlyphs">Poly-L-Lys 130 C at pH 2.5 at 20 C</text>
<line x1="1627" y1="64.3" x2="1670.6" y2="64.3" stroke="#19b41d" stroke-width="7.5"/>
<text x="1676.0" y="69.8" font-size="16.5" text-anchor="start" fill="#333" textLength="243.0" lengthAdjust="spacingAndGlyphs">Poly-L-Lys 130 C at pH 7.3 at 20C</text>
<line x1="1627" y1="85.7" x2="1670.6" y2="85.7" stroke="#22e8ee" stroke-width="7.5"/>
<text x="1676.0" y="91.2" font-size="16.5" text-anchor="start" fill="#333" textLength="249.3" lengthAdjust="spacingAndGlyphs">Poly-L-Lys 130 C at pH 9.7 at 20 C</text>
<line x1="1627" y1="107.1" x2="1670.6" y2="107.1" stroke="#0303c6" stroke-width="7.5"/>
<text x="1676.0" y="112.6" font-size="16.5" text-anchor="start" fill="#333" textLength="243.0" lengthAdjust="spacingAndGlyphs">Poly-L-Lys 130 C at pH 13 at 20 C</text>
<rect x="1626.7" y="125.2" width="6.6" height="6.6" rx="1.5" fill="#a01e25"/>
<rect x="1642.2" y="125.2" width="6.6" height="6.6" rx="1.5" fill="#a01e25"/>
<rect x="1658.0" y="125.2" width="6.6" height="6.6" rx="1.5" fill="#a01e25"/>
<text x="1675.1" y="134.0" font-size="16.5" text-anchor="start" fill="#333" textLength="288.8" lengthAdjust="spacingAndGlyphs">Calc 130 pH 2.5 = (0.45 200C+0.55 Lys)</text>
<rect x="1626.7" y="146.6" width="6.6" height="6.6" rx="1.5" fill="#32a046"/>
<rect x="1642.2" y="146.6" width="6.6" height="6.6" rx="1.5" fill="#32a046"/>
<rect x="1658.0" y="146.6" width="6.6" height="6.6" rx="1.5" fill="#32a046"/>
<text x="1675.1" y="155.4" font-size="16.5" text-anchor="start" fill="#333" textLength="288.8" lengthAdjust="spacingAndGlyphs">Calc 130 pH 7.3 = (0.25 200C+0.75 Lys)</text>
<rect x="1626.7" y="168.0" width="6.6" height="6.6" rx="1.5" fill="#4fd8da"/>
<rect x="1642.2" y="168.0" width="6.6" height="6.6" rx="1.5" fill="#4fd8da"/>
<rect x="1658.0" y="168.0" width="6.6" height="6.6" rx="1.5" fill="#4fd8da"/>
<text x="1675.1" y="176.8" font-size="16.5" text-anchor="start" fill="#333" textLength="288.8" lengthAdjust="spacingAndGlyphs">Calc 130 pH 9.7 = (0.27 200C+0.73 Lys)</text>
<rect x="1626.7" y="189.4" width="6.6" height="6.6" rx="1.5" fill="#140a8c"/>
<rect x="1642.2" y="189.4" width="6.6" height="6.6" rx="1.5" fill="#140a8c"/>
<rect x="1658.0" y="189.4" width="6.6" height="6.6" rx="1.5" fill="#140a8c"/>
<text x="1675.1" y="198.2" font-size="16.5" text-anchor="start" fill="#333" textLength="284.3" lengthAdjust="spacingAndGlyphs">Calc 130 pH 13 = (0.55 200C+0.45 Lys)</text>
<text transform="translate(28.3,271.5) rotate(-90)" font-size="30" text-anchor="middle" fill="#222" textLength="129" lengthAdjust="spacingAndGlyphs">CD (mdeg)</text></svg>
</body></html>
